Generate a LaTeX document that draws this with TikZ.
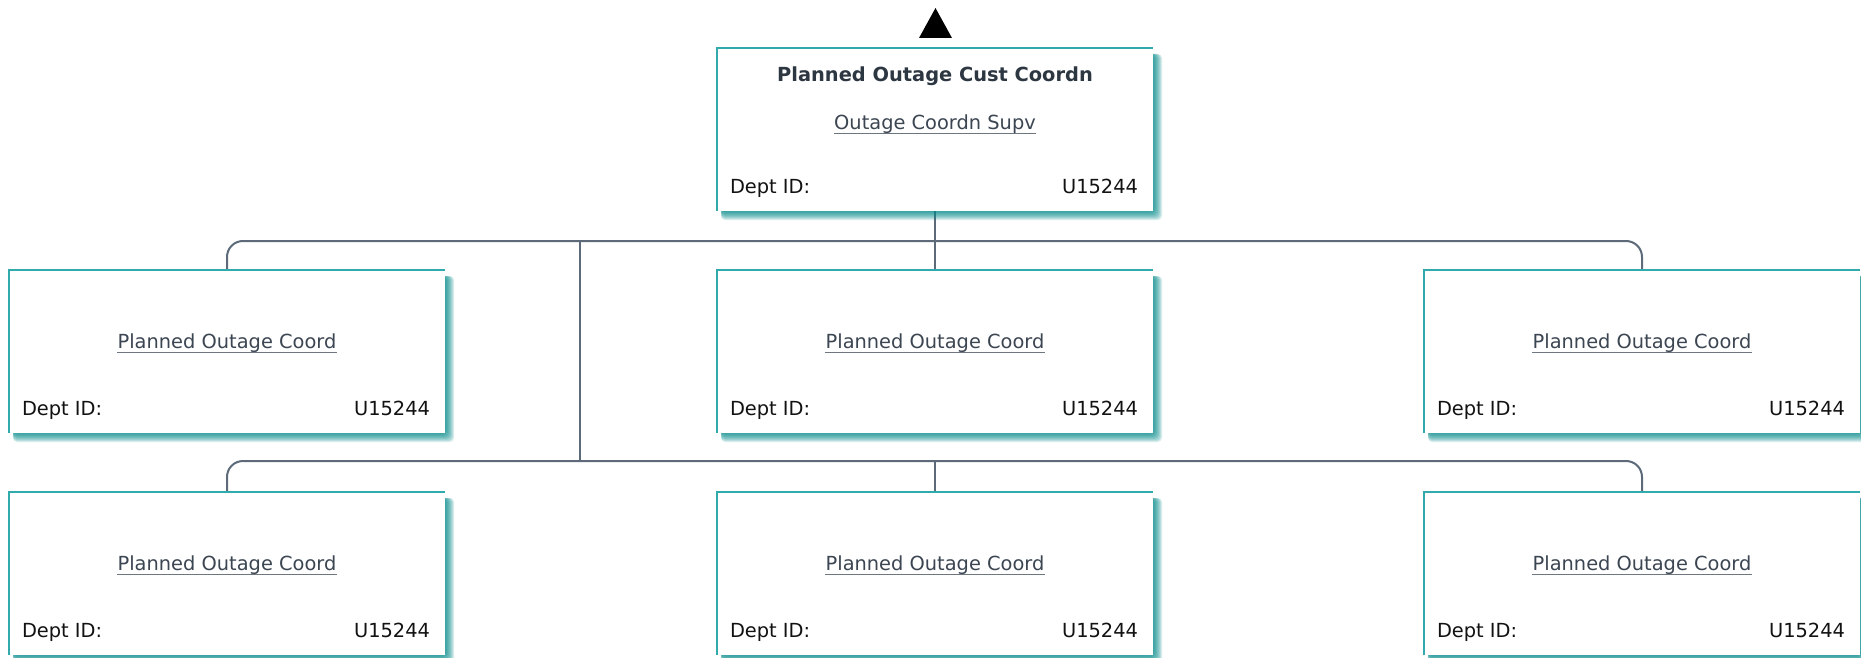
\documentclass[tikz,border=0pt]{standalone}
\usepackage{fontspec}
\setmainfont{DejaVu Sans}
\usetikzlibrary{calc}
\definecolor{tealc}{RGB}{48,170,170}
\definecolor{tealsh}{RGB}{0,138,138}
\definecolor{linec}{RGB}{92,106,122}
\definecolor{titc}{RGB}{45,55,66}
\definecolor{subc}{RGB}{60,70,82}
\definecolor{underc}{RGB}{110,118,128}
\definecolor{txtc}{RGB}{18,18,18}
\tikzset{
  x=1pt, y=-1pt,
  card/.style={rectangle, minimum width=436pt, minimum height=163pt, inner sep=0pt, fill=white},
  lbl/.style={inner sep=0pt, font=\fontsize{19.4}{23}\selectfont, text=subc},
  conn/.style={draw=linec, line width=2pt, rounded corners=16pt},
  edge/.style={draw=tealc, line width=1.6pt},
  uline/.style={draw=underc, line width=1.2pt},
}
% #1 name, #2 center x, #3 top y
\newcommand\cardshape[3]{%
  \foreach \d in {1,2,...,9}{%
    \fill[tealsh, opacity=0.14, rounded corners=4pt]
      (#2-214, #3+6) rectangle (#2+218+\d, #3+163+\d);
  }
  \node[card] (#1) at (#2, #3+81.5) {};
  \draw[edge] (#1.south west) -- (#1.north west) -- (#1.north east);
}
\newcommand\deptline[1]{%
  \node[lbl, anchor=base west, text=txtc] (#1d) at ($(#1.north west)+(13,146)$) {Dept ID:};
  \node[lbl, anchor=base east, text=txtc] (#1u) at ($(#1.north east)+(-15,146)$) {U15244};
}
\newcommand\coordcard[3]{%
  \cardshape{#1}{#2}{#3}
  \node[lbl, anchor=base] (#1t) at ($(#1.north)+(0,79)$) {Planned Outage Coord};
  \draw[uline] ($(#1t.base west)+(0,3.5)$) -- ($(#1t.base east)+(0,3.5)$);
  \deptline{#1}
}
\begin{document}
\begin{tikzpicture}
\useasboundingbox (0,0) rectangle (1861,658);
\fill[white] (0,0) rectangle (1861,658);

% connectors
\coordinate (bus1) at (580,241);
\coordinate (bus2) at (580,461);
\coordinate (c1a) at (227,270);
\coordinate (c1b) at (935,270);
\coordinate (c1c) at (1642,270);
\coordinate (c2a) at (227,492);
\coordinate (c2b) at (935,492);
\coordinate (c2c) at (1642,492);
\coordinate (ctop) at (935,211);
\draw[conn] (ctop) -- (c1b);
\draw[conn] (c1a) -- (c1a |- bus1) -- (c1c |- bus1) -- (c1c);
\draw[conn] (bus1) -- (bus2);
\draw[conn] (c2a) -- (c2a |- bus2) -- (c2c |- bus2) -- (c2c);
\draw[conn] (c2b |- bus2) -- (c2b);

% up marker
\fill[black] (919,38) -- (935.5,8) -- (952,38) -- cycle;

% top card
\cardshape{top}{935}{48}
\node[lbl, anchor=base, text=titc, font=\bfseries\fontsize{19.4}{23}\selectfont] (toptitle) at ($(top.north)+(0,34)$) {Planned Outage Cust Coordn};
\node[lbl, anchor=base] (topsub) at ($(top.north)+(0,82)$) {Outage Coordn Supv};
\draw[uline] ($(topsub.base west)+(0,3.5)$) -- ($(topsub.base east)+(0,3.5)$);
\deptline{top}

% row 1
\coordcard{ra}{227}{270}
\coordcard{rb}{935}{270}
\coordcard{rc}{1642}{270}
% row 2
\coordcard{sa}{227}{492}
\coordcard{sb}{935}{492}
\coordcard{sc}{1642}{492}
\end{tikzpicture}
\end{document}
